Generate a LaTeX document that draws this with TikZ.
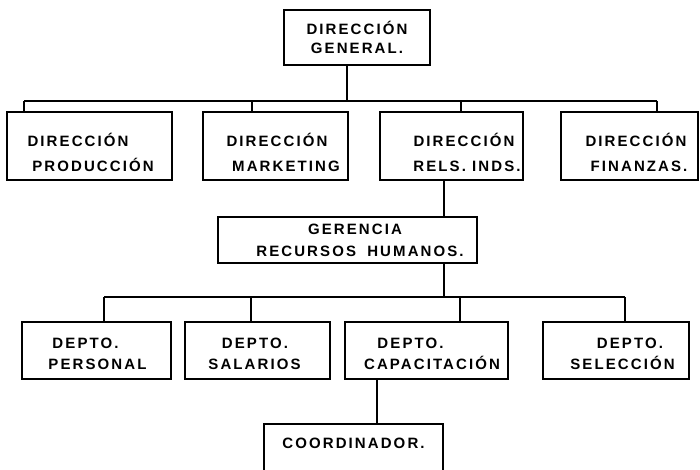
\documentclass[tikz,border=0pt]{standalone}
\usepackage{fontspec}
\setmainfont{Liberation Sans}[LetterSpace=14]
\usetikzlibrary{positioning}
% one line of a box, moved by (#1,#2) without changing the box size
\newcommand{\lineat}[3]{\raisebox{#2}[\height][\depth]{\kern#1\relax#3\kern-#1\relax}}

\begin{document}
\begin{tikzpicture}[x=1pt,y=1pt,
    box/.style={draw,line width=1.3pt,inner sep=0pt,align=center,
      font=\fontsize{15}{21}\selectfont\bfseries},
    link/.style={line width=1.3pt}]
  \useasboundingbox (0,0) rectangle (700,469);
  % top level
  \node[box,minimum width=146pt,minimum height=55pt,font=\fontsize{15}{19}\selectfont\bfseries] (dirgen) at (357,431.5) {DIRECCIÓN\\GENERAL.};
  % direcciones
  \node[box,minimum width=165pt,minimum height=68pt,font=\fontsize{15}{25}\selectfont\bfseries] (dirprod) at (89.5,323)
    {\lineat{-11.5pt}{-6pt}{DIRECCIÓN}\\\lineat{3.5pt}{-6pt}{PRODUCCIÓN}};
  \node[box,minimum width=145pt,minimum height=68pt,font=\fontsize{15}{25}\selectfont\bfseries] (dirmkt) at (275.5,323)
    {\lineat{1.5pt}{-6pt}{DIRECCIÓN}\\\lineat{10.5pt}{-6pt}{MARKETING}};
  \node[box,minimum width=143pt,minimum height=68pt,font=\fontsize{15}{25}\selectfont\bfseries] (dirrel) at (451.5,323)
    {\lineat{12.5pt}{-6pt}{DIRECCIÓN}\\\lineat{15.5pt}{-6pt}{RELS. INDS.}};
  \node[box,minimum width=137pt,minimum height=68pt,font=\fontsize{15}{25}\selectfont\bfseries] (dirfin) at (629.5,323)
    {\lineat{6.5pt}{-6pt}{DIRECCIÓN}\\\lineat{9.5pt}{-6pt}{FINANZAS.}};
  % gerencia
  \node[box,minimum width=259pt,minimum height=46pt,font=\fontsize{15}{22}\selectfont\bfseries] (gerrh) at (347.5,229)
    {\lineat{7.5pt}{0pt}{GERENCIA}\\\lineat{12.5pt}{0pt}{RECURSOS\hspace{5pt} HUMANOS.}};
  % departamentos
  \node[box,minimum width=149pt,minimum height=57pt] (perso) at (96.5,118.5)
    {\lineat{-11pt}{-3pt}{DEPTO.}\\\lineat{1pt}{-3pt}{PERSONAL}};
  \node[box,minimum width=145pt,minimum height=57pt] (salar) at (257.5,118.5)
    {\lineat{-2.5pt}{-3pt}{DEPTO.}\\\lineat{-3pt}{-3pt}{SALARIOS}};
  \node[box,minimum width=163pt,minimum height=57pt] (capac) at (426.5,118.5)
    {\lineat{-16pt}{-3pt}{DEPTO.}\\\lineat{5.5pt}{-3pt}{CAPACITACIÓN}};
  \node[box,minimum width=146pt,minimum height=57pt] (selec) at (616,118.5)
    {\lineat{14pt}{-3pt}{DEPTO.}\\\lineat{6.5pt}{-3pt}{SELECCIÓN}};
  % coordinador
  \node[box,minimum width=179pt,minimum height=80pt] (coord) at (353.5,5) {\lineat{0pt}{21pt}{COORDINADOR.}};

  % connectors
  \coordinate (topjoin) at (347,368);
  \coordinate (a1) at (24,368);
  \coordinate (a2) at (252,368);
  \coordinate (a3) at (461,368);
  \coordinate (a4) at (657,368);
  \draw[link] (dirgen.south -| topjoin) -- (topjoin);
  \draw[link] (a1) -- (a4);
  \draw[link] (a1) -- (a1 |- dirprod.north);
  \draw[link] (a2) -- (a2 |- dirmkt.north);
  \draw[link] (a3) -- (a3 |- dirrel.north);
  \draw[link] (a4) -- (a4 |- dirfin.north);
  \coordinate (midjoin) at (444,172);
  \draw[link] (dirrel.south -| midjoin) -- (gerrh.north -| midjoin);
  \draw[link] (gerrh.south -| midjoin) -- (midjoin);
  \coordinate (b1) at (104,172);
  \coordinate (b2) at (251,172);
  \coordinate (b3) at (460,172);
  \coordinate (b4) at (625,172);
  \draw[link] (b1) -- (b4);
  \draw[link] (b1) -- (b1 |- perso.north);
  \draw[link] (b2) -- (b2 |- salar.north);
  \draw[link] (b3) -- (b3 |- capac.north);
  \draw[link] (b4) -- (b4 |- selec.north);
  \coordinate (lowjoin) at (377,0);
  \draw[link] (capac.south -| lowjoin) -- (coord.north -| lowjoin);
\end{tikzpicture}
\end{document}
